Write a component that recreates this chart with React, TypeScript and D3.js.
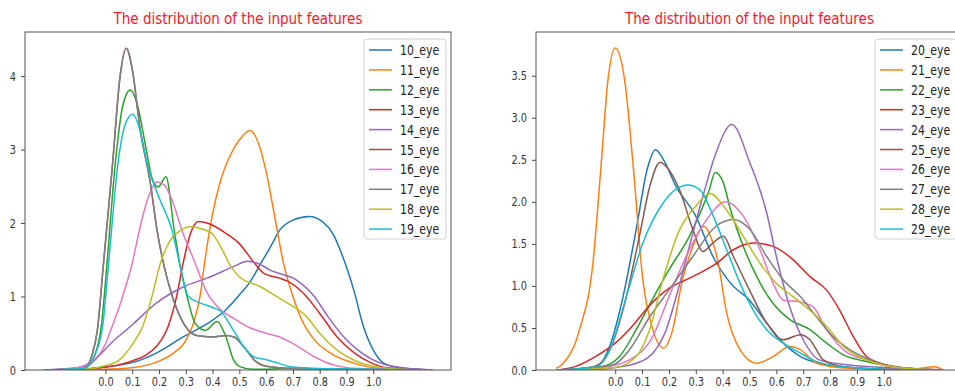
import React, { useRef, useEffect } from 'react';
import * as d3 from 'd3';

type Pt = [number, number];

const colors = ['#1f77b4', '#ff7f0e', '#2ca02c', '#d62728', '#9467bd', '#8c564b', '#e377c2', '#7f7f7f', '#bcbd22', '#17becf'];
const title = 'The distribution of the input features';
const leftNames = ['10_eye', '11_eye', '12_eye', '13_eye', '14_eye', '15_eye', '16_eye', '17_eye', '18_eye', '19_eye'];
const rightNames = ['20_eye', '21_eye', '22_eye', '23_eye', '24_eye', '25_eye', '26_eye', '27_eye', '28_eye', '29_eye'];
const xTicks = [0, 0.1, 0.2, 0.3, 0.4, 0.5, 0.6, 0.7, 0.8, 0.9, 1.0];
const leftYTicks = [0, 1, 2, 3, 4];
const rightYTicks = [0, 0.5, 1, 1.5, 2, 2.5, 3, 3.5];

// left panel, density values
const eye10: Pt[] = [[-0.23, 0], [-0.1, 0.01], [-0.05, 0.02], [0.02, 0.05], [0.1, 0.1], [0.19, 0.23], [0.29, 0.45], [0.38, 0.63], [0.45, 0.82], [0.5, 1.02], [0.54, 1.2], [0.58, 1.45], [0.62, 1.7], [0.65, 1.9], [0.7, 2.04], [0.76, 2.09], [0.81, 2.02], [0.85, 1.85], [0.88, 1.6], [0.93, 1.05], [0.96, 0.63], [1.0, 0.27], [1.04, 0.09], [1.1, 0.03], [1.22, 0]];
const eye11: Pt[] = [[-0.23, 0], [0, 0.01], [0.1, 0.03], [0.2, 0.12], [0.25, 0.22], [0.3, 0.4], [0.33, 0.65], [0.355, 1.04], [0.37, 1.45], [0.4, 2.12], [0.43, 2.58], [0.47, 2.95], [0.5, 3.13], [0.54, 3.26], [0.57, 3.1], [0.6, 2.7], [0.63, 2.13], [0.665, 1.45], [0.7, 1.0], [0.74, 0.63], [0.78, 0.41], [0.84, 0.23], [0.93, 0.09], [1.03, 0.02], [1.22, 0]];
const eye12: Pt[] = [[-0.23, 0], [-0.08, 0.02], [-0.04, 0.2], [-0.015, 0.6], [0.006, 1.45], [0.037, 2.81], [0.065, 3.6], [0.093, 3.81], [0.12, 3.6], [0.15, 3.05], [0.175, 2.6], [0.197, 2.49], [0.226, 2.63], [0.257, 1.9], [0.28, 1.4], [0.305, 1.0], [0.336, 0.63], [0.373, 0.54], [0.417, 0.66], [0.45, 0.45], [0.478, 0.14], [0.5, 0.05], [0.55, 0.01], [0.7, 0.02], [1.0, 0.01], [1.22, 0]];
const eye13: Pt[] = [[-0.23, 0], [-0.05, 0.02], [0, 0.04], [0.05, 0.07], [0.105, 0.13], [0.15, 0.2], [0.19, 0.32], [0.235, 0.6], [0.267, 1.02], [0.29, 1.45], [0.317, 1.85], [0.348, 2.02], [0.4, 1.97], [0.45, 1.86], [0.5, 1.72], [0.553, 1.47], [0.59, 1.32], [0.65, 1.25], [0.68, 1.21], [0.74, 1.04], [0.8, 0.77], [0.865, 0.45], [0.93, 0.23], [0.99, 0.1], [1.05, 0.03], [1.22, 0]];
const eye14: Pt[] = [[-0.23, 0], [-0.07, 0.05], [-0.03, 0.17], [0.02, 0.36], [0.105, 0.63], [0.19, 0.91], [0.29, 1.13], [0.38, 1.25], [0.48, 1.41], [0.53, 1.48], [0.57, 1.45], [0.615, 1.36], [0.715, 1.22], [0.78, 1.0], [0.83, 0.73], [0.89, 0.45], [0.95, 0.25], [1.03, 0.09], [1.11, 0.03], [1.22, 0]];
const eye15: Pt[] = [[-0.23, 0], [-0.08, 0.02], [-0.05, 0.2], [-0.03, 0.54], [-0.007, 1.45], [0.027, 2.81], [0.055, 4.0], [0.078, 4.38], [0.1, 4.1], [0.13, 3.27], [0.168, 2.54], [0.193, 1.9], [0.22, 1.4], [0.25, 1.0], [0.31, 0.54], [0.34, 0.47], [0.4, 0.45], [0.45, 0.47], [0.48, 0.45], [0.52, 0.3], [0.56, 0.12], [0.6, 0.05], [0.7, 0.02], [1.0, 0.01], [1.22, 0]];
const eye16: Pt[] = [[-0.23, 0], [-0.12, 0.02], [-0.05, 0.12], [0, 0.35], [0.02, 0.54], [0.06, 0.95], [0.1, 1.45], [0.13, 1.95], [0.16, 2.35], [0.193, 2.56], [0.22, 2.52], [0.25, 2.3], [0.286, 1.9], [0.33, 1.5], [0.38, 1.05], [0.43, 0.82], [0.48, 0.7], [0.53, 0.59], [0.6, 0.5], [0.65, 0.45], [0.7, 0.36], [0.78, 0.18], [0.85, 0.07], [0.95, 0.02], [1.22, 0]];
const eye17: Pt[] = [[-0.23, 0], [-0.08, 0.02], [-0.05, 0.2], [-0.03, 0.54], [-0.007, 1.45], [0.027, 2.81], [0.055, 4.0], [0.078, 4.38], [0.1, 4.1], [0.13, 3.27], [0.168, 2.54], [0.193, 1.9], [0.22, 1.4], [0.25, 1.0], [0.31, 0.54], [0.34, 0.47], [0.4, 0.45], [0.45, 0.47], [0.48, 0.45], [0.52, 0.3], [0.56, 0.12], [0.6, 0.05], [0.7, 0.02], [1.0, 0.01], [1.22, 0]];
const eye18: Pt[] = [[-0.23, 0], [-0.05, 0.02], [0, 0.06], [0.05, 0.13], [0.075, 0.22], [0.11, 0.4], [0.14, 0.6], [0.174, 1.0], [0.205, 1.45], [0.24, 1.75], [0.28, 1.9], [0.317, 1.95], [0.36, 1.92], [0.4, 1.85], [0.43, 1.68], [0.47, 1.4], [0.5, 1.27], [0.58, 1.13], [0.64, 1.0], [0.68, 0.91], [0.75, 0.73], [0.8, 0.5], [0.865, 0.27], [0.93, 0.13], [1.0, 0.05], [1.1, 0.01], [1.22, 0]];
const eye19: Pt[] = [[-0.23, 0], [-0.08, 0.02], [-0.04, 0.2], [-0.01, 0.6], [0.012, 1.45], [0.047, 2.81], [0.075, 3.35], [0.102, 3.48], [0.13, 3.25], [0.156, 2.81], [0.2, 2.35], [0.249, 1.9], [0.28, 1.4], [0.31, 1.0], [0.355, 0.91], [0.4, 0.85], [0.43, 0.8], [0.478, 0.54], [0.52, 0.3], [0.553, 0.18], [0.6, 0.14], [0.63, 0.11], [0.7, 0.04], [0.8, 0.02], [1.0, 0.01], [1.22, 0]];

// right panel
const eye20: Pt[] = [[-0.22, 0], [-0.07, 0.04], [-0.021, 0.28], [0.029, 0.87], [0.078, 1.67], [0.12, 2.4], [0.15, 2.62], [0.18, 2.5], [0.227, 2.18], [0.3, 1.83], [0.364, 1.35], [0.43, 1.03], [0.5, 0.83], [0.564, 0.56], [0.626, 0.32], [0.69, 0.16], [0.76, 0.08], [0.87, 0.03], [1.0, 0.01], [1.22, 0]];
const eye21: Pt[] = [[-0.22, 0.02], [-0.2, 0.06], [-0.133, 0.48], [-0.083, 1.27], [-0.052, 2.46], [-0.027, 3.45], [0, 3.83], [0.035, 3.45], [0.066, 2.46], [0.103, 1.07], [0.14, 0.48], [0.18, 0.26], [0.214, 0.48], [0.25, 1.07], [0.289, 1.47], [0.33, 1.71], [0.36, 1.55], [0.38, 1.33], [0.415, 0.68], [0.465, 0.24], [0.527, 0.08], [0.588, 0.16], [0.65, 0.28], [0.69, 0.24], [0.75, 0.08], [0.87, 0.02], [1.1, 0.01], [1.19, 0.04], [1.22, 0]];
const eye22: Pt[] = [[-0.22, 0], [-0.05, 0.04], [0.016, 0.16], [0.078, 0.48], [0.14, 0.85], [0.2, 1.19], [0.276, 1.59], [0.35, 2.14], [0.372, 2.35], [0.4, 2.25], [0.43, 1.9], [0.477, 1.47], [0.527, 1.11], [0.588, 0.79], [0.65, 0.6], [0.725, 0.48], [0.787, 0.32], [0.85, 0.18], [0.936, 0.1], [1.03, 0.04], [1.22, 0]];
const eye23: Pt[] = [[-0.22, 0], [-0.15, 0.04], [-0.074, 0.16], [0, 0.32], [0.074, 0.56], [0.115, 0.72], [0.16, 0.87], [0.2, 0.97], [0.289, 1.11], [0.378, 1.27], [0.44, 1.43], [0.514, 1.51], [0.588, 1.47], [0.663, 1.31], [0.725, 1.11], [0.787, 0.95], [0.836, 0.71], [0.886, 0.4], [0.936, 0.16], [1.0, 0.07], [1.1, 0.02], [1.22, 0]];
const eye24: Pt[] = [[-0.22, 0], [-0.05, 0.01], [0, 0.03], [0.078, 0.08], [0.14, 0.2], [0.19, 0.48], [0.227, 0.87], [0.276, 1.47], [0.326, 2.06], [0.375, 2.58], [0.434, 2.92], [0.502, 2.46], [0.564, 1.87], [0.6, 1.35], [0.65, 0.75], [0.7, 0.36], [0.76, 0.12], [0.87, 0.06], [1.0, 0.03], [1.22, 0]];
const eye25: Pt[] = [[-0.22, 0], [-0.08, 0.04], [-0.02, 0.24], [0.035, 0.79], [0.09, 1.59], [0.13, 2.2], [0.167, 2.47], [0.2, 2.38], [0.24, 2.14], [0.289, 1.67], [0.326, 1.41], [0.36, 1.5], [0.403, 1.59], [0.44, 1.35], [0.5, 0.95], [0.564, 0.56], [0.625, 0.36], [0.69, 0.42], [0.725, 0.36], [0.775, 0.12], [0.85, 0.04], [1.0, 0.01], [1.22, 0]];
const eye26: Pt[] = [[-0.22, 0], [-0.05, 0.03], [0.053, 0.12], [0.14, 0.4], [0.2, 0.87], [0.264, 1.35], [0.35, 1.83], [0.409, 2.0], [0.477, 1.83], [0.539, 1.43], [0.588, 1.03], [0.626, 0.83], [0.69, 0.81], [0.737, 0.75], [0.787, 0.48], [0.85, 0.24], [0.936, 0.12], [1.03, 0.04], [1.22, 0]];
const eye27: Pt[] = [[-0.22, 0], [-0.01, 0.06], [0.053, 0.24], [0.128, 0.63], [0.2, 0.95], [0.289, 1.35], [0.375, 1.71], [0.44, 1.79], [0.502, 1.67], [0.564, 1.35], [0.626, 1.07], [0.69, 0.87], [0.75, 0.63], [0.81, 0.4], [0.874, 0.24], [0.936, 0.14], [1.03, 0.04], [1.22, 0]];
const eye28: Pt[] = [[-0.22, 0], [0, 0.03], [0.078, 0.16], [0.128, 0.48], [0.177, 1.07], [0.24, 1.67], [0.3, 1.95], [0.353, 2.1], [0.415, 1.9], [0.477, 1.59], [0.539, 1.27], [0.6, 1.03], [0.663, 0.87], [0.725, 0.71], [0.787, 0.52], [0.85, 0.28], [0.936, 0.12], [1.03, 0.04], [1.22, 0]];
const eye29: Pt[] = [[-0.22, 0], [-0.07, 0.04], [-0.02, 0.24], [0.041, 0.87], [0.103, 1.51], [0.177, 1.98], [0.27, 2.2], [0.316, 2.14], [0.365, 1.83], [0.415, 1.43], [0.465, 1.03], [0.514, 0.71], [0.564, 0.48], [0.626, 0.32], [0.69, 0.2], [0.75, 0.1], [0.85, 0.04], [1.0, 0.01], [1.22, 0]];

const leftData = [eye10, eye11, eye12, eye13, eye14, eye15, eye16, eye17, eye18, eye19];
const rightData = [eye20, eye21, eye22, eye23, eye24, eye25, eye26, eye27, eye28, eye29];

const FONT = 'DejaVu Sans';
const SQUEEZE = 0.78;

export default function App(): JSX.Element {
  const svgRef = useRef<SVGSVGElement>(null);

  useEffect(() => {
    const el = svgRef.current;
    if (el == null) return;
    const svg = d3.select(el);
    svg.selectAll('*').remove();

    const panels = [
      { id: 'l', left: 25, right: 451, top: 32, bottom: 370, xDom: [-0.3, 1.29], yDom: [0, 4.6], yTicks: leftYTicks, yFmt: d3.format('d'), names: leftNames, data: leftData, legendX: 364 },
      { id: 'r', left: 536, right: 963, top: 32, bottom: 370, xDom: [-0.295, 1.295], yDom: [0, 4.02], yTicks: rightYTicks, yFmt: d3.format('.1f'), names: rightNames, data: rightData, legendX: 875 }
    ];

    panels.forEach((p) => {
      const x = d3.scaleLinear().domain(p.xDom).range([p.left, p.right]);
      const y = d3.scaleLinear().domain(p.yDom).range([p.bottom, p.top]);

      svg.append('clipPath').attr('id', `clip-${p.id}`)
        .append('rect')
        .attr('x', p.left).attr('y', p.top)
        .attr('width', p.right - p.left).attr('height', p.bottom - p.top);

      // density curves
      const line = d3.line<Pt>().x((d) => x(d[0])).y((d) => y(d[1])).curve(d3.curveMonotoneX);
      svg.append('g').attr('clip-path', `url(#clip-${p.id})`)
        .selectAll('path')
        .data(p.data)
        .join('path')
        .attr('d', (d) => line(d))
        .attr('fill', 'none')
        .attr('stroke', (_d, i) => colors[i])
        .attr('stroke-width', 1.5);

      // axes
      const xAxis = svg.append('g')
        .attr('transform', `translate(0,${p.bottom})`)
        .call(d3.axisBottom(x).tickValues(xTicks).tickFormat(d3.format('.1f')).tickSize(4).tickPadding(3));
      const yAxis = svg.append('g')
        .attr('transform', `translate(${p.left},0)`)
        .call(d3.axisLeft(y).tickValues(p.yTicks).tickFormat(p.yFmt as any).tickSize(4).tickPadding(4));
      [xAxis, yAxis].forEach((g) => {
        g.select('.domain').remove();
        g.selectAll('line').attr('stroke', '#444');
        g.selectAll('text')
          .attr('fill', '#333')
          .style('font-family', FONT)
          .style('font-size', '12.5px');
      });
      xAxis.selectAll('text').attr('transform', `scale(${SQUEEZE},1)`);
      yAxis.selectAll('text').attr('x', -9 / SQUEEZE).attr('transform', `scale(${SQUEEZE},1)`);

      // frame
      svg.append('rect')
        .attr('x', p.left).attr('y', p.top)
        .attr('width', p.right - p.left).attr('height', p.bottom - p.top)
        .attr('fill', 'none').attr('stroke', '#555').attr('stroke-width', 1);

      // title
      svg.append('text')
        .attr('transform', `translate(${(p.left + p.right) / 2},24) scale(0.9,1)`)
        .attr('text-anchor', 'middle')
        .attr('fill', '#f0202a')
        .style('font-family', FONT)
        .style('font-size', '15px')
        .text(title);

      // legend
      const lg = svg.append('g').attr('transform', `translate(${p.legendX},39)`);
      lg.append('rect')
        .attr('width', 82).attr('height', 200).attr('rx', 3)
        .attr('fill', '#fff').attr('fill-opacity', 0.8)
        .attr('stroke', '#d0d0d0');
      const items = lg.selectAll('g.item')
        .data(p.names)
        .join('g')
        .attr('class', 'item')
        .attr('transform', (_d, i) => `translate(0,${11 + i * 19.9})`);
      items.append('line')
        .attr('x1', 5).attr('x2', 28)
        .attr('stroke', (_d, i) => colors[i])
        .attr('stroke-width', 1.5);
      items.append('text')
        .attr('transform', `translate(36,5) scale(${SQUEEZE},1)`)
        .attr('fill', '#222')
        .style('font-family', FONT)
        .style('font-size', '14px')
        .text((d) => d);
    });
  }, []);

  return (
    <svg
      ref={svgRef}
      width={955}
      height={391}
      style={{ position: 'absolute', left: 0, top: 0, background: '#fff' }}
    />
  );
}
